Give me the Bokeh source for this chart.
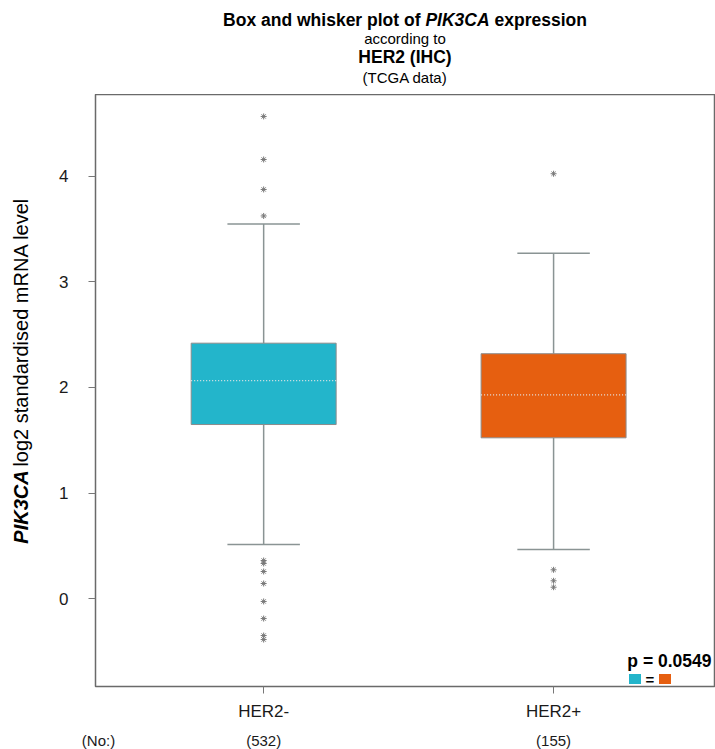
import math

from bokeh.plotting import figure
from bokeh.layouts import column, row
from bokeh.models import Label, FixedTicker, Range1d
from bokeh.embed import file_html
from bokeh.resources import INLINE

# ---- data -----------------------------------------------------------------
groups = ["HER2-", "HER2+"]
counts = [532, 155]
q1 = [1.649, 1.523]
medians = [2.066, 1.930]
q3 = [2.420, 2.320]
whisker_low = [0.512, 0.464]
whisker_high = [3.550, 3.273]
outliers = [
    [4.569, 4.161, 3.877, 3.626, 0.360, 0.332, 0.256, 0.142, -0.028, -0.190, -0.351, -0.389],
    [4.026, 0.272, 0.168, 0.107],
]
box_colors = ["#23B5CB", "#E65F10"]
y_ticks = [0, 1, 2, 3, 4]
p_value = 0.0549

# ---- page geometry (canvas pixels) -----------------------------------------
W, H = 715, 749
TITLE_H = 94          # band holding the four title lines
YLAB_W = 40           # strip holding the rotated y-axis title
COUNTS_H = 25         # band holding the group sizes
FRAME_LEFT, FRAME_RIGHT = 95, 714
FRAME_BOTTOM = 686
X0, X1 = 0.42, 2.555
Y0, Y1 = -0.834, 4.777
FONT = "Liberation Sans"

frame_w = FRAME_RIGHT - FRAME_LEFT
frame_h = FRAME_BOTTOM - TITLE_H
x_per_px = (X1 - X0) / frame_w
y_per_px = (Y1 - Y0) / frame_h


def yd(py):
    """Canvas pixel row -> data y of the main plot."""
    return Y1 - (py - TITLE_H) * y_per_px


def blank(width, height, x_range, y_range):
    f = figure(width=width, height=height, x_range=x_range, y_range=y_range,
               output_backend="svg", toolbar_location=None, title=None,
               min_border=0, x_axis_location=None, y_axis_location=None)
    f.grid.visible = False
    f.outline_line_color = None
    f.background_fill_color = "white"
    f.border_fill_color = "white"
    return f


def add_text(fig, text, x, y, size="15px", style="normal", align="center",
             baseline="alphabetic", angle=0.0, color="#000000"):
    fig.add_layout(Label(
        x=x, y=y, text=text, angle=angle,
        text_font=FONT, text_font_size=size, text_font_style=style,
        text_align=align, text_baseline=baseline, text_color=color,
    ))


# ---- main plot ------------------------------------------------------------
main_h = H - TITLE_H - COUNTS_H
main_w = W - YLAB_W
p = figure(
    width=main_w, height=main_h,
    x_range=Range1d(X0, X1), y_range=Range1d(Y0, Y1),
    output_backend="svg", toolbar_location=None, title=None,
    min_border_left=FRAME_LEFT - YLAB_W, min_border_right=W - FRAME_RIGHT,
    min_border_top=0, min_border_bottom=main_h - frame_h,
)
p.xgrid.visible = False
p.ygrid.visible = False
p.outline_line_color = "#6a6a6a"
p.outline_line_width = 1.5
p.background_fill_color = "white"
p.border_fill_color = "white"

positions = [i + 1 for i in range(len(groups))]

for ax in (p.xaxis[0], p.yaxis[0]):
    ax.axis_line_color = None
    ax.major_tick_line_color = "#777777"
    ax.major_tick_line_width = 1
    ax.major_tick_out = 7
    ax.major_tick_in = 0
    ax.minor_tick_line_color = None
    ax.major_label_text_font = FONT
    ax.major_label_text_font_size = "17px"
    ax.major_label_text_color = "#1a1a1a"

p.xaxis.ticker = FixedTicker(ticks=positions)
p.xaxis.major_label_overrides = {pos: g for pos, g in zip(positions, groups)}
p.xaxis.major_label_standoff = 8
p.yaxis.ticker = FixedTicker(ticks=y_ticks)
p.yaxis.major_label_standoff = 20
p.yaxis.major_label_orientation = "horizontal"

# whiskers and caps
whisker_color = "#8a9494"
cap_half = 0.125
p.segment(x0=positions, y0=q3, x1=positions, y1=whisker_high,
          line_color=whisker_color, line_width=1.5)
p.segment(x0=positions, y0=q1, x1=positions, y1=whisker_low,
          line_color=whisker_color, line_width=1.5)
p.segment(x0=[x - cap_half for x in positions], y0=whisker_high,
          x1=[x + cap_half for x in positions], y1=whisker_high,
          line_color=whisker_color, line_width=1.5)
p.segment(x0=[x - cap_half for x in positions], y0=whisker_low,
          x1=[x + cap_half for x in positions], y1=whisker_low,
          line_color=whisker_color, line_width=1.5)

# boxes
p.vbar(x=positions, width=0.5, bottom=q1, top=q3,
       fill_color=box_colors, line_color="#8c8c8c", line_width=1)

# medians (dotted)
p.segment(x0=[x - 0.25 for x in positions], y0=medians,
          x1=[x + 0.25 for x in positions], y1=medians,
          line_color="#e6e6e6", line_width=1.2, line_dash="1 2")

# outliers
for pos, vals in zip(positions, outliers):
    p.scatter(x=[pos] * len(vals), y=vals, marker="asterisk", size=6,
              line_color="#777777", line_width=1)

# p-value and colour key, bottom-right corner of the frame
x_right = X1 - 3 * x_per_px
add_text(p, f"p = {p_value}", x_right, yd(660), size="17.5px", style="bold", align="right")
key_x = [X1 - 79.5 * x_per_px, X1 - 49.5 * x_per_px]
p.rect(x=key_x, y=[yd(678.5)] * 2, width=12, height=10,
       width_units="screen", height_units="screen",
       fill_color=box_colors, line_color=None)
add_text(p, "=", (key_x[0] + key_x[1]) / 2, yd(678.5), size="15px",
         style="bold", baseline="middle")

# ---- title band -----------------------------------------------------------
title = blank(W, TITLE_H, Range1d(0, W), Range1d(TITLE_H, 0))
cx = (FRAME_LEFT + FRAME_RIGHT) / 2
add_text(title, "Box and whisker plot of", cx - 181.9, 19, size="17.5px", style="bold", align="left")
add_text(title, "PIK3CA", cx + 20.4, 19, size="17.5px", style="bold italic", align="left")
add_text(title, "expression", cx + 89.5, 19, size="17.5px", style="bold", align="left")
add_text(title, "according to", cx, 37.5)
add_text(title, "HER2 (IHC)", cx, 56.5, size="17.5px", style="bold")
add_text(title, "(TCGA data)", cx, 76.5)

# ---- y-axis title strip ---------------------------------------------------
ylab = blank(YLAB_W, main_h, Range1d(0, YLAB_W), Range1d(TITLE_H + main_h, TITLE_H))
add_text(ylab, "PIK3CA", 20, 572, size="20px", style="bold italic", align="left",
         baseline="middle", angle=math.pi / 2)
add_text(ylab, "log2 standardised mRNA level", 20, 490, size="20px", align="left",
         baseline="middle", angle=math.pi / 2)

# ---- group sizes band (same x scale as the main plot) ---------------------
cx0 = X0 - FRAME_LEFT * x_per_px
counts_fig = blank(W, COUNTS_H, Range1d(cx0, cx0 + W * x_per_px), Range1d(H, H - COUNTS_H))
add_text(counts_fig, "(No:)", cx0 + 98 * x_per_px, 740, size="15px", color="#1a1a1a")
for pos, n in zip(positions, counts):
    add_text(counts_fig, f"({n})", pos, 740, size="15px", color="#1a1a1a")

page = column(title, row(ylab, p, spacing=0), counts_fig, spacing=0)
open("out.html", "w").write(file_html(page, INLINE))
